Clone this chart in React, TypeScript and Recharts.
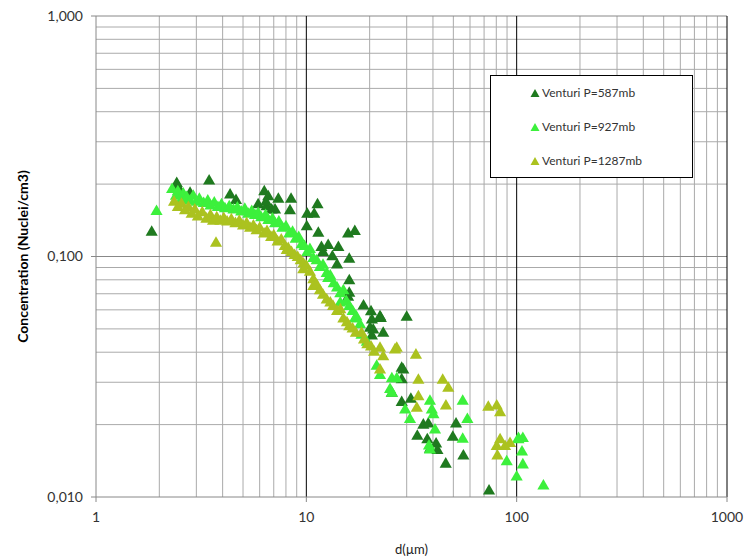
import React from 'react';
import { ScatterChart, Scatter, XAxis, YAxis, ZAxis, ReferenceLine, Legend } from 'recharts';

// [d (µm), concentration (Nuclei/cm3)]
const venturi587: [number, number][] = [
  [1.84, 0.126], [2.42, 0.201], [2.46, 0.193], [2.8, 0.183], [3.45, 0.206], [4.34, 0.18], [4.63, 0.171],
  [5.9, 0.164], [6.31, 0.186], [6.47, 0.161], [6.59, 0.177], [6.43, 0.168], [6.84, 0.156], [7.1, 0.156],
  [7.36, 0.173], [8.36, 0.155], [8.46, 0.173], [10.05, 0.133], [10.1, 0.15], [10.9, 0.15], [11.3, 0.164],
  [11.4, 0.125], [11.8, 0.109], [12.0, 0.104], [12.7, 0.111], [13.3, 0.0998], [14.0, 0.0922], [14.2, 0.109],
  [15.8, 0.124], [17.0, 0.127], [16.0, 0.0973], [16.0, 0.0793], [16.0, 0.0703], [15.8, 0.0677], [18.7, 0.0622],
  [20.3, 0.0589], [20.5, 0.0545], [22.6, 0.0553], [22.4, 0.0562], [20.1, 0.0503], [20.8, 0.0495], [23.2, 0.048],
  [20.5, 0.0467], [30.0, 0.0559], [28.9, 0.0337], [28.4, 0.0343], [28.4, 0.0307], [28.4, 0.0247], [31.4, 0.0255],
  [25.5, 0.027], [36.0, 0.0199], [38.0, 0.0201], [33.7, 0.0179], [37.6, 0.0173], [41.4, 0.0166], [38.7, 0.0158],
  [42.0, 0.0156], [51.5, 0.0201], [49.7, 0.0177], [55.8, 0.0148], [46.0, 0.0137], [73.9, 0.0106],
];

const venturi927: [number, number][] = [
  [1.94, 0.154], [2.3, 0.19], [2.4, 0.178], [2.45, 0.186], [2.55, 0.172], [2.6, 0.182], [2.7, 0.176], [2.8, 0.17],
  [2.9, 0.178], [3.0, 0.168], [3.1, 0.173], [3.25, 0.166], [3.4, 0.17], [3.5, 0.162], [3.65, 0.167], [3.8, 0.16],
  [3.95, 0.164], [4.1, 0.158], [4.3, 0.161], [4.5, 0.156], [4.7, 0.159], [4.9, 0.153], [5.1, 0.157], [5.3, 0.15],
  [5.5, 0.154], [5.7, 0.148], [5.9, 0.151], [6.1, 0.145], [6.4, 0.148], [6.6, 0.141], [6.9, 0.143], [7.1, 0.137],
  [7.4, 0.139], [7.7, 0.131], [8.0, 0.133], [8.3, 0.124], [8.6, 0.126], [8.9, 0.118], [9.2, 0.12], [9.5, 0.112],
  [9.8, 0.11], [10.1, 0.104], [10.4, 0.107], [10.8, 0.098], [11.2, 0.096], [11.6, 0.09], [12.0, 0.092],
  [12.5, 0.085], [12.7, 0.081], [13.0, 0.083], [13.5, 0.077], [14.0, 0.074], [14.5, 0.07], [14.5, 0.064],
  [15.0, 0.072], [15.5, 0.065], [16.0, 0.062], [16.6, 0.059], [17.0, 0.055], [17.3, 0.056], [18.0, 0.052],
  [18.3, 0.047], [19.4, 0.044], [21.6, 0.035], [22.4, 0.032], [25.5, 0.031], [25.0, 0.028], [25.5, 0.027],
  [26.9, 0.031], [29.5, 0.023], [31.1, 0.021], [38.7, 0.025], [39.5, 0.023], [40.2, 0.022], [40.9, 0.019],
  [38.7, 0.0157], [38.3, 0.0163], [55.4, 0.025], [58.3, 0.021], [55.4, 0.0174], [89.7, 0.014], [102, 0.0175],
  [107, 0.0175], [106, 0.0154], [107, 0.0136], [100, 0.0121], [134, 0.0111], [102, 0.0173],
];

const venturi1287: [number, number][] = [
  [2.35, 0.168], [2.45, 0.16], [2.55, 0.165], [2.65, 0.155], [2.75, 0.16], [2.85, 0.15], [2.95, 0.156],
  [3.05, 0.146], [3.2, 0.152], [3.35, 0.143], [3.5, 0.148], [3.6, 0.14], [3.72, 0.1135], [3.75, 0.145],
  [3.9, 0.14], [4.05, 0.144], [4.2, 0.139], [4.4, 0.142], [4.6, 0.137], [4.8, 0.14], [5.0, 0.134], [5.2, 0.137],
  [5.4, 0.131], [5.6, 0.134], [5.8, 0.128], [6.0, 0.131], [6.3, 0.124], [6.5, 0.127], [6.8, 0.12], [7.0, 0.122],
  [7.3, 0.115], [7.6, 0.117], [7.9, 0.11], [8.07, 0.106], [8.2, 0.108], [8.5, 0.104], [8.8, 0.101], [9.1, 0.099],
  [9.4, 0.096], [9.67, 0.088], [9.7, 0.093], [10.0, 0.091], [10.4, 0.086], [10.8, 0.08], [10.8, 0.075],
  [11.2, 0.076], [11.6, 0.072], [12.0, 0.069], [12.5, 0.066], [13.0, 0.064], [13.4, 0.062], [14.0, 0.059],
  [14.5, 0.06], [15.0, 0.055], [15.6, 0.053], [16.0, 0.051], [16.6, 0.05], [17.2, 0.048], [18.3, 0.048],
  [18.8, 0.045], [19.5, 0.043], [20.3, 0.042], [21.0, 0.04], [22.4, 0.0415], [23.2, 0.0383], [22.4, 0.0337],
  [26.4, 0.0409], [26.9, 0.0415], [33.2, 0.0389], [34.1, 0.0306], [34.1, 0.0261], [33.5, 0.0234], [44.5, 0.0306],
  [47.3, 0.0283], [46.1, 0.0239], [73.3, 0.0236], [80.4, 0.0239], [83.4, 0.0224], [83.4, 0.0173], [80.4, 0.0162],
  [81.0, 0.0148], [88.1, 0.0162], [93.0, 0.0167],
];

const xTicks = [1, 10, 100, 1000];
const yTicks = [0.01, 0.1, 1];
const xMinorGrid = [2, 3, 4, 5, 6, 7, 8, 9, 20, 30, 40, 50, 60, 70, 80, 90, 200, 300, 400, 500, 600, 700, 800, 900];
const xMajorGrid = [10, 100, 1000];
const yMinorGrid = [0.02, 0.03, 0.04, 0.05, 0.06, 0.07, 0.08, 0.09, 0.2, 0.3, 0.4, 0.5, 0.6, 0.7, 0.8, 0.9];
const yMajorGrid = [0.1, 1];

const seriesNames = ['Venturi P=587mb', 'Venturi P=927mb', 'Venturi P=1287mb'];
const seriesColors = ['#1f7a1f', '#3cf03c', '#abc21f'];

const toRows = (arr: [number, number][]) => arr.map(([d, c]) => ({ d, c }));

const FONT = 'Lato, "Open Sans", sans-serif';

const LegendBox = (props: any) => {
  const payload = [...(props.payload || [])].sort(
    (a: any, b: any) => seriesNames.indexOf(a.value) - seriesNames.indexOf(b.value)
  );
  return (
    <div
      style={{
        width: 201,
        height: 101,
        border: '1px solid #000',
        background: '#fff',
        fontFamily: FONT,
        fontSize: 12,
        color: '#333',
        position: 'relative',
      }}
    >
      {payload.map((p: any, i: number) => (
        <div
          key={i}
          style={{ position: 'absolute', left: 39, top: 9 + i * 34, display: 'flex', alignItems: 'center', whiteSpace: 'nowrap' }}
        >
          <svg width={10} height={10} style={{ marginRight: 2 }}>
            <polygon points="5,1 9.5,9 0.5,9" fill={p.color} />
          </svg>
          <span>{p.value}</span>
        </div>
      ))}
    </div>
  );
};

export default function App() {
  const yFmt = (v: number) => v.toFixed(3).replace('.', ',');
  return (
    <div style={{ position: 'absolute', left: 0, top: 0, width: 744, height: 558, background: '#fff' }}>
      <ScatterChart width={744} height={558} margin={{ top: 16, right: 17, left: 0, bottom: 0 }}>
        <XAxis
          dataKey="d"
          type="number"
          scale="log"
          domain={[1, 1000]}
          ticks={xTicks}
          allowDataOverflow
          height={61}
          tickSize={5}
          tickMargin={10}
          stroke="#888"
          tick={{ fill: '#333', fontSize: 14, fontFamily: FONT }}
          label={{ value: 'd(µm)', position: 'insideBottom', offset: 4, fill: '#222', fontSize: 13, fontFamily: FONT }}
        />
        <YAxis
          dataKey="c"
          type="number"
          scale="log"
          domain={[0.01, 1]}
          ticks={yTicks}
          allowDataOverflow
          width={96}
          tickSize={5}
          tickMargin={8}
          stroke="#888"
          tickFormatter={yFmt}
          tick={{ fill: '#333', fontSize: 14, fontFamily: FONT }}
          label={{
            content: (lp: any) => {
              const vb = lp.viewBox;
              const cx = vb.x + 22;
              const cy = vb.y + vb.height / 2;
              return (
                <text
                  x={cx}
                  y={cy}
                  transform={`rotate(-90, ${cx}, ${cy})`}
                  textAnchor="middle"
                  dominantBaseline="central"
                  fontFamily={FONT}
                  fontWeight="bold"
                  fontSize={14}
                  fill="#000"
                >
                  Concentration (Nuclei/cm3)
                </text>
              );
            },
          }}
        />
        <ZAxis range={[34, 34]} />
        {yMinorGrid.map((v) => (
          <ReferenceLine key={'ym' + v} y={v} stroke="#aaa" strokeWidth={1} />
        ))}
        {xMinorGrid.map((v) => (
          <ReferenceLine key={'xm' + v} x={v} stroke="#aaa" strokeWidth={1} />
        ))}
        {yMajorGrid.map((v) => (
          <ReferenceLine key={'yM' + v} y={v} stroke="#888" strokeWidth={1} />
        ))}
        {xMajorGrid.map((v) => (
          <ReferenceLine key={'xM' + v} x={v} stroke="#000" strokeWidth={1} />
        ))}
        <Legend
          layout="vertical"
          align="center"
          verticalAlign="middle"
          content={<LegendBox />}
          wrapperStyle={{ position: 'absolute', left: 490, top: 75, width: 203, height: 103 }}
        />
        <Scatter name={seriesNames[0]} data={toRows(venturi587)} fill={seriesColors[0]} shape="triangle" isAnimationActive={false} />
        <Scatter name={seriesNames[1]} data={toRows(venturi927)} fill={seriesColors[1]} shape="triangle" isAnimationActive={false} />
        <Scatter name={seriesNames[2]} data={toRows(venturi1287)} fill={seriesColors[2]} shape="triangle" isAnimationActive={false} />
      </ScatterChart>
    </div>
  );
}
